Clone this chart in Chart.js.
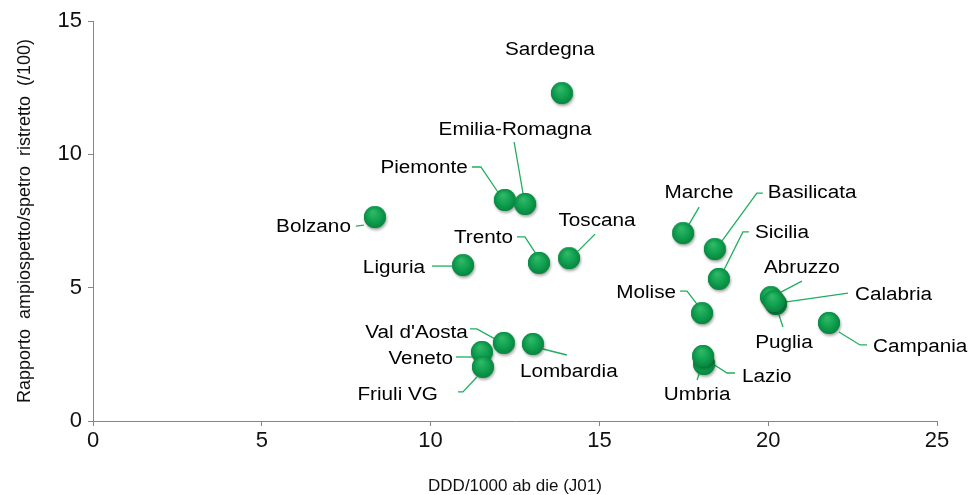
<!DOCTYPE html>
<html>
<head>
<meta charset="utf-8">
<script src="https://cdn.jsdelivr.net/npm/chart.js@4"></script>
<style>
  html, body { margin: 0; padding: 0; background: #fff; }
  #wrap { width: 968px; height: 495px; position: relative; }
</style>
</head>
<body>
<div id="wrap"><canvas id="myChart"></canvas></div>
<script>
// regions in the usual order (later ones are drawn on top)
const regions = ['Piemonte', "Val d'Aosta", 'Lombardia', 'Bolzano', 'Trento', 'Veneto', 'Friuli VG',
  'Liguria', 'Emilia-Romagna', 'Toscana', 'Umbria', 'Marche', 'Lazio', 'Abruzzo', 'Molise',
  'Campania', 'Puglia', 'Basilicata', 'Calabria', 'Sicilia', 'Sardegna'];
const dddValues = [12.20, 12.17, 13.03, 8.35, 13.21, 11.52, 11.55, 10.96, 12.80, 14.10, 18.10,
  17.48, 18.07, 20.08, 18.04, 21.80, 20.23, 18.42, 20.17, 18.54, 13.89];
const ratioValues = [8.25, 2.89, 2.85, 7.61, 5.89, 2.55, 1.99, 5.81, 8.10, 6.07, 2.10,
  7.01, 2.40, 4.61, 4.01, 3.64, 4.35, 6.41, 4.46, 5.29, 12.26];
const xTicks = [0, 5, 10, 15, 20, 25];
const yTicks = [0, 5, 10, 15];

// label placement, pixel offsets from the point
const labelPos = {
  'Sardegna': { dx: -12, dy: -44, align: 'center', line: [] },
  'Emilia-Romagna': { dx: -10, dy: -75, align: 'center', line: [[-11, -63], [-2, -11]] },
  'Piemonte': { dx: -37, dy: -33, align: 'right', line: [[-33, -34], [-24, -34], [-7, -9]] },
  'Bolzano': { dx: -24, dy: 9, align: 'right', line: [[-19, 8], [-11, 7]] },
  'Liguria': { dx: -38, dy: 2, align: 'right', line: [[-31, 0], [-11, 0]] },
  'Trento': { dx: -26, dy: -26, align: 'right', line: [[-22, -27], [-14, -27], [-3, -10]] },
  'Toscana': { dx: 28, dy: -38, align: 'center', line: [[26, -25], [9, -8]] },
  'Marche': { dx: 16, dy: -41, align: 'center', line: [[16, -27], [6, -10]] },
  'Basilicata': { dx: 53, dy: -57, align: 'left', line: [[48, -57], [42, -57], [7, -9]] },
  'Sicilia': { dx: 36, dy: -47, align: 'left', line: [[30, -48], [24, -48], [5, -10]] },
  'Molise': { dx: -26, dy: -21, align: 'right', line: [[-22, -23], [-15, -23], [-5, -10]] },
  'Abruzzo': { dx: 31, dy: -30, align: 'center', line: [[31, -17], [10, -6]] },
  'Calabria': { dx: 81, dy: -7, align: 'left', line: [[74, -9], [11, 0]] },
  'Puglia': { dx: 8, dy: 38, align: 'center', line: [[7, 22], [3, 10]] },
  'Campania': { dx: 44, dy: 23, align: 'left', line: [[38, 21], [31, 21], [10, 8]] },
  'Lazio': { dx: 39, dy: 20, align: 'left', line: [[10, 7], [24, 16], [32, 16]] },
  'Umbria': { dx: -7, dy: 30, align: 'center', line: [[-5, 9], [-7, 15]] },
  "Val d'Aosta": { dx: -36, dy: -11, align: 'right', line: [[-34, -15], [-27, -15], [-9, -5]] },
  'Lombardia': { dx: -13, dy: 27, align: 'left', line: [[10, 4], [34, 10]] },
  'Veneto': { dx: -29, dy: 6, align: 'right', line: [[-26, 4], [-10, 4]] },
  'Friuli VG': { dx: -45, dy: 27, align: 'right', line: [[-25, 24], [-20, 24], [-6, 9]] }
};

// green ball marker
function makeBall() {
  const c = document.createElement('canvas');
  c.width = 28; c.height = 28;
  const g = c.getContext('2d');
  g.save();
  g.shadowColor = 'rgba(0,0,0,0.35)';
  g.shadowBlur = 3;
  g.shadowOffsetX = 1;
  g.shadowOffsetY = 2;
  g.beginPath();
  g.arc(14, 13, 11, 0, Math.PI * 2);
  g.fillStyle = '#0b9447';
  g.fill();
  g.restore();
  const grad = g.createRadialGradient(12, 8, 1, 14, 13, 12);
  grad.addColorStop(0, '#2fb866');
  grad.addColorStop(0.55, '#0fa050');
  grad.addColorStop(1, '#07803c');
  g.beginPath();
  g.arc(14, 13, 11, 0, Math.PI * 2);
  g.fillStyle = grad;
  g.fill();
  return c;
}

const labelPlugin = {
  id: 'regionLabels',
  beforeDatasetsDraw(chart) {
    const ctx = chart.ctx;
    const meta = chart.getDatasetMeta(0);
    ctx.save();
    ctx.strokeStyle = '#1fae5c';
    ctx.lineWidth = 1.3;
    meta.data.forEach((pt, i) => {
      const lp = labelPos[regions[i]];
      if (!lp || lp.line.length < 2) return;
      ctx.beginPath();
      lp.line.forEach((p, k) => {
        if (k === 0) ctx.moveTo(pt.x + p[0], pt.y + p[1]);
        else ctx.lineTo(pt.x + p[0], pt.y + p[1]);
      });
      ctx.stroke();
    });
    ctx.restore();
  },
  afterDatasetsDraw(chart) {
    const ctx = chart.ctx;
    const meta = chart.getDatasetMeta(0);
    meta.data.forEach((pt, i) => {
      const lp = labelPos[regions[i]];
      if (!lp) return;
      ctx.save();
      ctx.translate(pt.x + lp.dx, pt.y + lp.dy);
      ctx.scale(1.15, 1);
      ctx.font = '18px "Liberation Sans", Arial, sans-serif';
      ctx.fillStyle = '#000';
      ctx.textAlign = lp.align;
      ctx.textBaseline = 'middle';
      ctx.fillText(regions[i], 0, 0);
      ctx.restore();
    });
  }
};

const axisColor = '#868686';
const tickFont = { family: '"Liberation Sans", Arial, sans-serif', size: 22 };

new Chart(document.getElementById('myChart'), {
  type: 'scatter',
  data: {
    labels: regions,
    datasets: [{
      data: dddValues.map((x, i) => ({ x: x, y: ratioValues[i] })),
      pointStyle: makeBall(),
      pointRadius: 11,
      pointHoverRadius: 11
    }]
  },
  options: {
    responsive: true,
    maintainAspectRatio: false,
    animation: false,
    layout: { padding: { top: 21, right: 31, left: 0, bottom: 0 } },
    plugins: { legend: { display: false }, tooltip: { enabled: false } },
    scales: {
      x: {
        type: 'linear',
        min: 0, max: 25,
        afterBuildTicks: (s) => { s.ticks = xTicks.map(v => ({ value: v })); },
        afterFit: (s) => { s.height = 74; },
        grid: { drawOnChartArea: false, drawTicks: true, tickLength: 5, color: axisColor },
        border: { display: true, color: axisColor, width: 1 },
        ticks: { color: '#111', font: tickFont, padding: 2, maxRotation: 0 },
        title: {
          display: true, text: 'DDD/1000 ab die (J01)', color: '#111',
          font: { family: '"Liberation Sans", Arial, sans-serif', size: 17, lineHeight: 1 },
          padding: { top: 0, bottom: 0 }
        }
      },
      y: {
        type: 'linear',
        min: 0, max: 15,
        afterBuildTicks: (s) => { s.ticks = yTicks.map(v => ({ value: v })); },
        afterFit: (s) => { s.width = 93; },
        grid: { drawOnChartArea: false, drawTicks: true, tickLength: 5, color: axisColor },
        border: { display: true, color: axisColor, width: 1 },
        ticks: { color: '#111', font: tickFont, padding: 6 },
        title: {
          display: true, text: 'Rapporto  ampiospetto/spetro  ristretto  (/100)', color: '#111',
          font: { family: '"Liberation Sans", Arial, sans-serif', size: 18 },
          padding: { top: 14, bottom: 0 }
        }
      }
    }
  },
  plugins: [labelPlugin]
});
</script>
</body>
</html>
